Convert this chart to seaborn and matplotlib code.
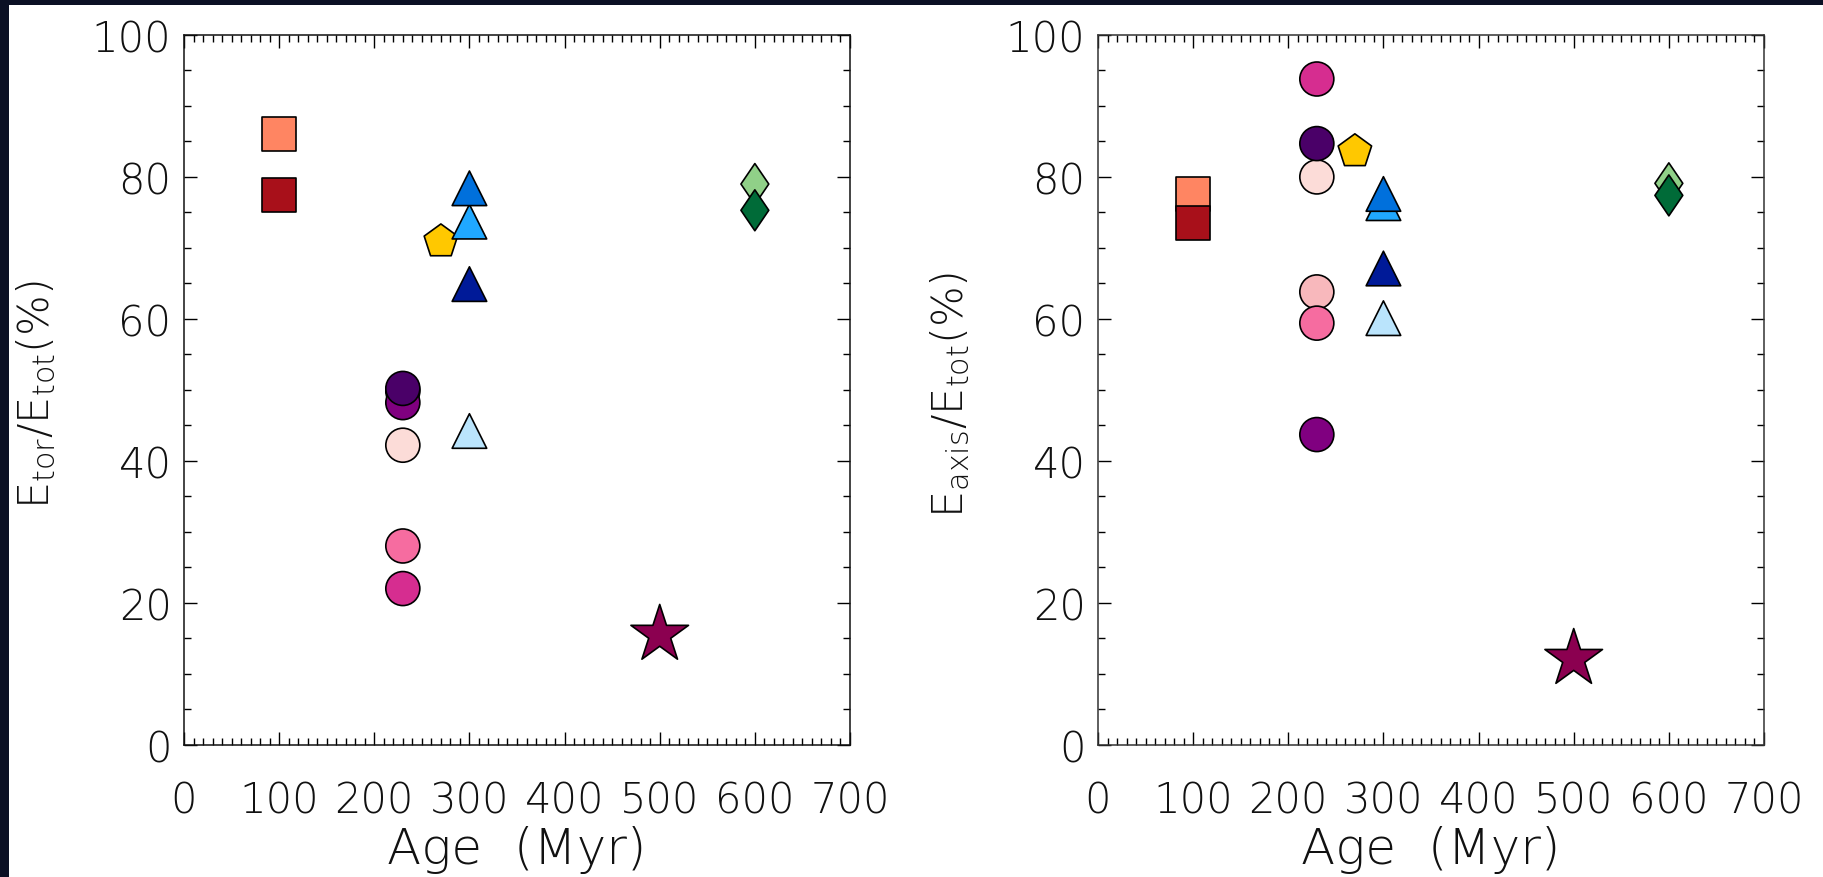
import numpy as np
import pandas as pd
import matplotlib
matplotlib.use("Agg")
import matplotlib.pyplot as plt
import seaborn as sns
from matplotlib.path import Path
from matplotlib.patches import Rectangle
from matplotlib.ticker import MultipleLocator

# ---------------- data ----------------
names = ["coral_sq", "darkred_sq", "lightpink_c", "pink_c", "magenta_c",
         "vlightpink_c", "purple_c", "darkpurple_c", "gold_p",
         "paleblue_t", "navy_t", "lightblue_t", "blue_t",
         "maroon_star", "lightgreen_d", "darkgreen_d"]
shapes = ["square", "square", "circle", "circle", "circle",
          "circle", "circle", "circle", "pentagon",
          "triangle", "triangle", "triangle", "triangle",
          "star", "diamond", "diamond"]
colors = ["#FF8562", "#A8101A", "#F8B8BC", "#F66CA0", "#D62D90",
          "#FCDCD8", "#800080", "#4A0068", "#FFC800",
          "#BAE4FC", "#001A98", "#20A8FF", "#0070DC",
          "#8B0050", "#90D088", "#006B38"]
age = [100, 100, 230, 230, 230, 230, 230, 230, 270,
       300, 300, 300, 300, 500, 600, 600]
e_tor = [86.0, 77.5, 49.8, 28.0, 22.0, 42.2, 48.2, 50.2, 70.9,
         44.2, 64.9, 73.7, 78.4, 15.5, 79.0, 75.3]
e_axis = [77.6, 73.5, 63.8, 59.4, 93.8, 80.0, 43.7, 84.7, 83.6,
          60.1, 67.1, 76.3, 77.6, 12.1, 79.1, 77.4]

xticks = [0, 100, 200, 300, 400, 500, 600, 700]
yticks = [0, 20, 40, 60, 80, 100]

df = pd.DataFrame({"name": names, "shape": shapes, "age": age,
                   "e_tor": e_tor, "e_axis": e_axis})
palette = dict(zip(names, colors))

thin_diamond = Path([(0, 1), (0.68, 0), (0, -1), (-0.68, 0), (0, 1)],
                    [Path.MOVETO, Path.LINETO, Path.LINETO, Path.LINETO, Path.CLOSEPOLY])
markers = {"square": "s", "circle": "o", "pentagon": "p",
           "triangle": "^", "star": "*", "diamond": thin_diamond}
sizes = {"square": 600, "circle": 600, "pentagon": 640,
         "triangle": 620, "star": 1900, "diamond": 870}

# ---------------- style ----------------
sns.set_theme(style="ticks")
plt.rcParams["font.family"] = ["DejaVu Sans"]
plt.rcParams["font.weight"] = "light"
plt.rcParams["mathtext.fontset"] = "custom"
plt.rcParams["mathtext.rm"] = "DejaVu Sans:weight=light"
plt.rcParams["mathtext.it"] = "DejaVu Sans:weight=light"
plt.rcParams["mathtext.default"] = "rm"

fig = plt.figure(figsize=(18.23, 8.78), dpi=100)
fig.patch.set_facecolor("#0b1024")
fig.patches.append(Rectangle((9 / 1823, 0), 1, 1 - 6 / 878, transform=fig.transFigure,
                             facecolor="white", edgecolor="none", zorder=-10))

axL = fig.add_axes([184 / 1823, (878 - 745.7) / 878, 666 / 1823, 709.7 / 878])
axR = fig.add_axes([1098 / 1823, (878 - 745.7) / 878, 666 / 1823, 709.7 / 878])

panels = [(axL, "e_tor", r"$\mathrm{E_{tor}/E_{tot}(\%)}$", "#111111"),
          (axR, "e_axis", r"$\mathrm{E_{axis}/E_{tot}(\%)}$", "#333333")]

for ax, col, ylab, spc in panels:
    ax.set_facecolor("white")
    sns.scatterplot(data=df, x="age", y=col, hue="name", palette=palette,
                    style="shape", markers=markers, size="shape", sizes=sizes,
                    edgecolor="black", linewidth=1.2, legend=False, ax=ax, zorder=3)
    ax.set_xlim(0, 700)
    ax.set_ylim(0, 100)
    ax.set_xticks(xticks)
    ax.set_yticks(yticks)
    ax.xaxis.set_minor_locator(MultipleLocator(10))
    ax.yaxis.set_minor_locator(MultipleLocator(5))
    ax.tick_params(axis="both", which="both", direction="in", top=True, right=True,
                   color="black", labelsize=30, labelcolor="#111111")
    ax.tick_params(axis="both", which="major", length=9.5, width=1.0)
    ax.tick_params(axis="both", which="minor", length=4.8, width=1.0)
    ax.tick_params(axis="x", which="major", pad=25)
    ax.tick_params(axis="y", which="major", pad=9)
    for lab in ax.get_xticklabels() + ax.get_yticklabels():
        lab.set_fontweight("light")
    for s in ax.spines.values():
        s.set_linewidth(1.1)
        s.set_color(spc)
    ax.set_xlabel("Age  (Myr)", fontsize=36, color="#111111", va="center", fontweight="light")
    ax.xaxis.set_label_coords(0.5, -0.147)
    ax.set_ylabel(ylab, fontsize=31, color="#111111", va="center", fontweight="light")
    ax.yaxis.set_label_coords(-0.222, 0.495)

fig.savefig("out.png", dpi=100, facecolor=fig.get_facecolor())
